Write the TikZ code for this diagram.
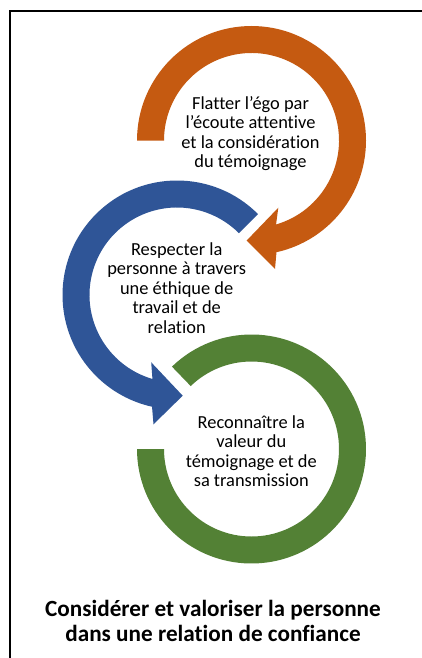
\documentclass[tikz,border=0pt]{standalone}
\usepackage{fontspec}
\setmainfont[Ligatures=NoCommon]{Carlito}
\usetikzlibrary{calc}
\definecolor{ringorange}{HTML}{C55A11}
\definecolor{ringblue}{HTML}{2F5597}
\definecolor{ringgreen}{HTML}{538135}
\begin{document}
\begin{tikzpicture}[x=1pt,y=-1pt,
  ringtext/.style={align=center, inner sep=0pt, font=\fontsize{18.4}{19.5}\selectfont, anchor=base, text=black},
  titletext/.style={align=center, inner sep=0pt, font=\bfseries\fontsize{23.2}{25}\selectfont, anchor=base, text=black}]
\useasboundingbox (0,0) rectangle (422,658);
\clip (0,0) rectangle (422,658);
\fill[white] (0,0) rectangle (422,658);
\draw[line width=1.8pt] (10,680) -- (10,11) -- (440,11);

\coordinate (O) at (251.5,140.5);
\coordinate (B) at (177,295);
\coordinate (G) at (251.5,449);

% orange circular arrow
\fill[ringorange] ($(O)+(180:114.5)$) arc[start angle=180, end angle=437.4, radius=114.5]
  -- (275,269) -- (246.7,240.5) -- (278.3,207.7) -- ($(O)+(433.7:87.5)$)
  arc[start angle=433.7, end angle=180, radius=87.5] -- cycle;

% blue circular arrow
\fill[ringblue] ($(B)+(-45:114.5)$) arc[start angle=-45, end angle=-257.4, radius=114.5]
  -- (153.5,424.3) -- (182.7,395.7) -- (151.2,362.3) -- ($(B)+(-253.7:87.5)$)
  arc[start angle=-253.7, end angle=-45, radius=87.5] -- cycle;

% green ring
\fill[ringgreen] ($(G)+(-134:114.5)$) arc[start angle=-134, end angle=180, radius=114.5]
  -- ($(G)+(180:87.5)$) arc[start angle=180, end angle=-134, radius=87.5] -- cycle;

% anchor=base puts the last line's baseline at the given point
\node[ringtext] (t1) at (250.5,167.5) {Flatter l’égo par\\l’écoute attentive\\et la considération\\du témoignage};
\node[ringtext] (t2) at (176.7,333) {Respecter la\\personne à travers\\une éthique de\\travail et de\\relation};
\node[ringtext] (t3) at (251.3,486.5) {Reconnaître la\\valeur du\\témoignage et de\\sa transmission};
\node[titletext] (title) at (213,641.7) {Considérer et valoriser la personne\\dans une relation de confiance};
\end{tikzpicture}
\end{document}
